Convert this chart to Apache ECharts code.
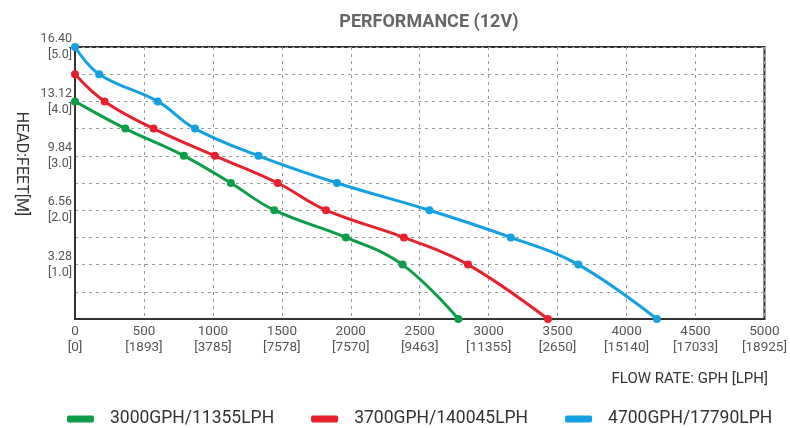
<!DOCTYPE html>
<html>
<head>
<meta charset="utf-8">
<script src="https://cdn.jsdelivr.net/npm/echarts@6/dist/echarts.min.js"></script>
<style>html,body{margin:0;padding:0;background:#fff}#c{width:790px;height:428px}</style>
</head>
<body>
<div id="c"></div>
<script>
// x: flow rate in GPH, y: head in metres
const seriesNames = ['3000GPH/11355LPH', '3700GPH/140045LPH', '4700GPH/17790LPH'];
const greenFlow = [0, 365, 790, 1130, 1445, 1965, 2375, 2780];
const greenHead = [4.0, 3.5, 3.0, 2.5, 2.0, 1.5, 1.0, 0];
const redFlow = [0, 215, 570, 1015, 1470, 1820, 2385, 2850, 3430];
const redHead = [4.5, 4.0, 3.5, 3.0, 2.5, 2.0, 1.5, 1.0, 0];
const blueFlow = [0, 175, 600, 870, 1330, 1900, 2570, 3160, 3650, 4220];
const blueHead = [5.0, 4.5, 4.0, 3.5, 3.0, 2.5, 2.0, 1.5, 1.0, 0];

const xGphTicks = [0, 500, 1000, 1500, 2000, 2500, 3000, 3500, 4000, 4500, 5000];
const xLphLabels = ['0', '1893', '3785', '7578', '7570', '9463', '11355', '2650', '15140', '17033', '18925'];
const yMeterTicks = [1, 2, 3, 4, 5];
const yFeetLabels = ['3.28', '6.56', '9.84', '13.12', '16.40'];
const yMeterLabels = ['1.0', '2.0', '3.0', '4.0', '5.0'];

const colors = ['#0b9d48', '#e6212b', '#12a0e3'];
const font = 'Roboto, "Noto Sans", sans-serif';

function zip(a, b) { return a.map((v, i) => [v, b[i]]); }

const chart = echarts.init(document.getElementById('c'), null, { renderer: 'canvas' });
chart.setOption({
  animation: false,
  color: colors,
  title: [
    { text: 'PERFORMANCE (12V)', left: 424, top: 8, textAlign: 'center',
      textStyle: { fontFamily: font, fontSize: 18, fontWeight: 'bold', color: '#666' } },
    { text: 'FLOW RATE: GPH [LPH]', right: 17, top: 367,
      textStyle: { fontFamily: font, fontSize: 15, fontWeight: 'normal', color: '#333' } }
  ],
  graphic: [
    { type: 'text', x: 21, y: 164, rotation: -Math.PI / 2,
      style: { text: 'HEAD:FEET[M]', fill: '#333', font: '16px ' + font, textAlign: 'center', textVerticalAlign: 'middle' } }
  ],
  grid: { left: 75, right: 22, top: 47, bottom: 109, show: true, borderColor: '#333', borderWidth: 2, containLabel: false },
  legend: {
    left: 62, top: 405, width: 760, itemWidth: 27, itemHeight: 7, itemGap: 37, icon: 'roundRect',
    textStyle: { fontFamily: font, fontSize: 17.5, color: '#333', padding: [0, 0, 0, 11] },
    data: seriesNames
  },
  xAxis: {
    type: 'value', min: 0, max: 5000, interval: 500,
    axisLine: { show: true, lineStyle: { color: '#333', width: 2 } },
    axisTick: { show: false },
    splitLine: { show: true, lineStyle: { color: '#999', type: [3, 4], width: 1 } },
    axisLabel: {
      margin: 5, color: '#555', fontFamily: font, fontSize: 13.5, lineHeight: 16,
      formatter: v => { const i = xGphTicks.indexOf(v); return i < 0 ? '' : xGphTicks[i] + '\n[' + xLphLabels[i] + ']'; }
    }
  },
  yAxis: {
    type: 'value', min: 0, max: 5, interval: 0.5,
    axisLine: { show: true, lineStyle: { color: '#333', width: 2 } },
    axisTick: { show: false },
    splitLine: { show: true, lineStyle: { color: '#999', type: [3, 4], width: 1 } },
    axisLabel: {
      margin: 3, color: '#555', fontFamily: font, fontSize: 12.5, lineHeight: 16,
      formatter: v => { const i = yMeterTicks.findIndex(t => Math.abs(t - v) < 1e-6); return i < 0 ? '' : yFeetLabels[i] + '\n[' + yMeterLabels[i] + ']'; }
    }
  },
  series: [
    { name: seriesNames[0], type: 'line', smooth: 0.4, data: zip(greenFlow, greenHead) },
    { name: seriesNames[1], type: 'line', smooth: 0.4, data: zip(redFlow, redHead) },
    { name: seriesNames[2], type: 'line', smooth: 0.4, data: zip(blueFlow, blueHead) }
  ].map(s => Object.assign(s, { symbol: 'circle', symbolSize: 8, lineStyle: { width: 3 }, clip: false }))
});
</script>
</body>
</html>
